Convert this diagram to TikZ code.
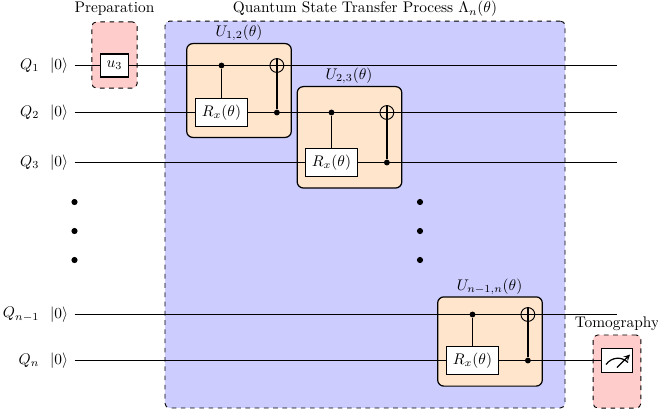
\documentclass[tikz,border=0pt]{standalone}
\usepackage{xcolor}
\tikzstyle{transfer} = [rectangle, rounded corners=3pt, minimum width=260pt, minimum height=251.5pt, draw=black, semithick, dashed, fill=blue!20]
\tikzstyle{redbox} = [rectangle, rounded corners=3pt, draw=black, semithick, dashed, fill=red!20]
\tikzstyle{unitary} = [rectangle, rounded corners=4pt, minimum width=68pt, minimum height=61pt, draw=black, thick, fill=orange!20]
\tikzstyle{gate} = [rectangle, minimum width=33.8pt, minimum height=18.2pt, inner sep=0pt, draw=black, thick, fill=white]
\tikzstyle{ctrl} = [circle, minimum size=3.8pt, inner sep=0pt, fill=black]
\tikzstyle{target} = [circle, minimum size=9pt, inner sep=0pt, draw=black, semithick]
\tikzstyle{wire} = [thick]
\tikzstyle{vdot} = [circle, minimum size=4pt, inner sep=0pt, fill=black]

\begin{document}
\begin{tikzpicture}[x=0.65pt, y=-0.65pt, node distance=36pt]
    \useasboundingbox (0,0) rectangle (658,416);

    % Background boxes
    \node (process) [transfer] at (365,214.5) {};
    \node (prepbox) [redbox, minimum width=29.5pt, minimum height=43pt] at (114.5,55) {};
    \node (tomobox) [redbox, minimum width=31pt, minimum height=47.5pt] at (617,371.5) {};
    \node (uone) [unitary] at (239,90.5) {};
    \node (utwo) [unitary, minimum height=65.9pt] at (349.5,137.3) {};
    \node (uthree) [unitary, minimum height=58pt] at (490,341.5) {};

    % Box titles
    \node (preptitle) at (114.5,9) {Preparation};
    \node (processtitle) at (365,9) {Quantum State Transfer Process $\Lambda_n(\theta)$};
    \node (tomotitle) at (617,324) {Tomography};
    \node (uonetitle) at (239,33) {$U_{1,2}(\theta)$};
    \node (utwotitle) at (349,76) {$U_{2,3}(\theta)$};
    \node (uthreetitle) at (489.5,287) {$U_{n-1,n}(\theta)$};

    % Wire ends
    \coordinate (startone) at (74.5,65.5);
    \coordinate (starttwo) at (74.5,112.5);
    \coordinate (startthree) at (74.5,162.5);
    \coordinate (startfour) at (74.5,314.5);
    \coordinate (startfive) at (74.5,360.5);
    \coordinate (endone) at (617,65.5);
    \coordinate (endtwo) at (617,112.5);
    \coordinate (endthree) at (617,162.5);
    \coordinate (endfour) at (617,314.5);
    \coordinate (endfive) at (617,360.5);

    % Wires
    \draw [wire] (startone) -- (endone);
    \draw [wire] (starttwo) -- (endtwo);
    \draw [wire] (startthree) -- (endthree);
    \draw [wire] (startfour) -- (endfour);
    \draw [wire] (startfive) -- (endfive);

    % Wire labels
    \node (ketone) [left of=startone, node distance=10pt] {$|0\rangle$};
    \node (kettwo) [left of=starttwo, node distance=10pt] {$|0\rangle$};
    \node (ketthree) [left of=startthree, node distance=10pt] {$|0\rangle$};
    \node (ketfour) [left of=startfour, node distance=10pt] {$|0\rangle$};
    \node (ketfive) [left of=startfive, node distance=10pt] {$|0\rangle$};
    \node (qone) [anchor=east] at (ketone.west) {$Q_1$};
    \node (qtwo) [anchor=east] at (kettwo.west) {$Q_2$};
    \node (qthree) [anchor=east] at (ketthree.west) {$Q_3$};
    \node (qfour) [anchor=east] at (ketfour.west) {$Q_{n-1}$};
    \node (qfive) [anchor=east] at (ketfive.west) {$Q_n$};

    % Gates
    \node (prep) [gate, minimum width=18.5pt, minimum height=15pt] at (114.5,65.5) {$u_3$};
    \node (gateone) [gate] at (221.5,112.5) {$R_x(\theta)$};
    \node (gatetwo) [gate] at (331.5,162.5) {$R_x(\theta)$};
    \node (gatethree) [gate] at (472.5,360.5) {$R_x(\theta)$};
    \node (ctrlone) [ctrl] at (gateone |- startone) {};
    \node (ctrltwo) [ctrl] at (gatetwo |- starttwo) {};
    \node (ctrlthree) [ctrl] at (gatethree |- startfour) {};
    \node (targone) [target, right of=ctrlone] {};
    \node (targtwo) [target, right of=ctrltwo] {};
    \node (targthree) [target, right of=ctrlthree] {};
    \node (backone) [ctrl, right of=gateone] {};
    \node (backtwo) [ctrl, right of=gatetwo] {};
    \node (backthree) [ctrl, right of=gatethree] {};

    % Gate connectors
    \draw [wire] (ctrlone) -- (gateone);
    \draw [wire] (ctrltwo) -- (gatetwo);
    \draw [wire] (ctrlthree) -- (gatethree);
    \draw [wire] (targone.north) -- (backone);
    \draw [wire] (targtwo.north) -- (backtwo);
    \draw [wire] (targthree.north) -- (backthree);

    % Measurement
    \node (meter) [gate, minimum width=20.5pt, minimum height=15.8pt] at (617,360.5) {};
    \draw [wire] ([shift={(-11,4)}]meter.center) .. controls ([shift={(-5,-4)}]meter.center) and ([shift={(5,-4)}]meter.center) .. ([shift={(11,2)}]meter.center);
    \draw [wire, ->, >=stealth] ([shift={(0,7)}]meter.center) -- ([shift={(13,-6)}]meter.center);

    % Vertical dots
    \node (dotone) [vdot] at (74.5,202) {};
    \node (dottwo) [vdot] at (74.5,231) {};
    \node (dotthree) [vdot] at (74.5,260) {};
    \node (dotfour) [vdot] at (420,202) {};
    \node (dotfive) [vdot] at (420,231) {};
    \node (dotsix) [vdot] at (420,260) {};
\end{tikzpicture}
\end{document}
